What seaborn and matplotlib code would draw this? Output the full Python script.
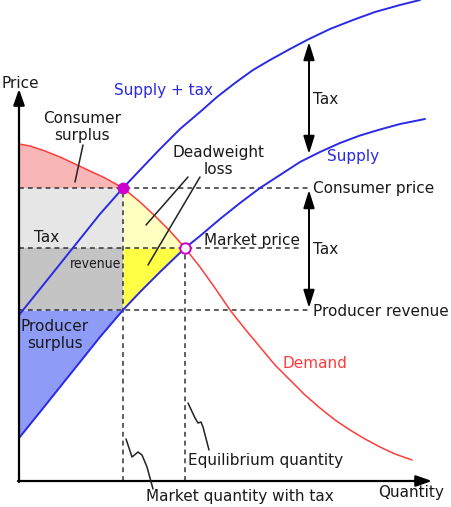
import matplotlib
matplotlib.use("Agg")
import matplotlib.pyplot as plt
import seaborn as sns
import numpy as np
import pandas as pd

sns.set_theme(style="white")
plt.rcParams['font.family'] = ['DejaVu Sans']

# ---- data (quantity, price) ----
demand_q = [0, 11, 26, 41, 56, 71, 86, 104, 121, 136, 151, 166, 181, 196, 211, 226,
            241, 256, 271, 286, 301, 316, 331, 346, 361, 376, 393]
demand_p = [337, 335, 330, 324, 317, 310, 303, 293, 279, 265, 250, 233, 214, 193, 171, 152,
            134, 116, 101, 86, 73, 61, 51, 42, 34, 27, 21]

supply_q = [0, 21, 41, 61, 81, 104, 121, 141, 166, 181, 201, 221, 241, 261, 281, 301,
            321, 341, 361, 381, 406]
supply_p = [43, 69, 94, 119, 144, 171, 189, 209, 233, 245, 262, 278, 293, 306, 319, 329,
            338, 345.5, 351.5, 357, 362]

supply_tax_q = [0, 21, 41, 61, 81, 104, 121, 141, 161, 181, 198, 216, 234, 251, 271, 288,
                311, 334, 356, 381, 401]
supply_tax_p = [166, 192, 217, 242, 267, 293, 311, 332, 352, 369, 384, 398, 411, 421, 432, 441,
                452, 461, 469, 476, 481]

consumer_price = 293
market_price = 233
producer_revenue = 171
q_tax = 104
q_eq = 166

squiggle1_q = [107, 113, 119, 123, 128, 134]
squiggle1_p = [42, 24, 29, 26, 14, -8]
squiggle2_q = [169, 176, 179, 182, 184, 190]
squiggle2_p = [78, 63, 58, 59, 54, 31]

BLUE = "#2a2ae6"
RED = "#ff3b3b"
MAG = "#cc00cc"
DASH = "#333333"
FS = 11

fig = plt.figure(figsize=(4.51, 5.07), dpi=100)
ax = fig.add_axes([0, 0, 1, 1])
ax.set_xlim(-19, 432)
ax.set_ylim(-26, 481)
ax.axis("off")

dq = np.array(demand_q); dp = np.array(demand_p)
sq = np.array(supply_q); sp = np.array(supply_p)

# ---- filled regions ----
m = dq <= q_tax
ax.fill_between(dq[m], consumer_price, dp[m], color="#f9b6b6", lw=0, zorder=1)
ax.fill_between([0, q_tax], market_price, consumer_price, color="#e6e6e6", lw=0, zorder=1)
ax.fill_between([0, q_tax], producer_revenue, market_price, color="#c4c4c4", lw=0, zorder=1)
m2 = (dq >= q_tax) & (dq <= q_eq)
ax.fill_between(dq[m2], market_price, dp[m2], color="#ffffc0", lw=0, zorder=1)
m3 = (sq >= q_tax) & (sq <= q_eq)
ax.fill_between(sq[m3], sp[m3], market_price, color="#ffff45", lw=0, zorder=1)
m4 = sq <= q_tax
ax.fill_between(sq[m4], sp[m4], producer_revenue, color="#8e9cf8", lw=0, zorder=1)

# ---- dashed guide lines ----
dkw = dict(color=DASH, lw=1.1, dashes=(3.2, 2.6), zorder=2)
ax.plot([0, 291], [consumer_price] * 2, **dkw)
ax.plot([0, 282], [market_price] * 2, **dkw)
ax.plot([0, 291], [producer_revenue] * 2, **dkw)
ax.plot([q_tax] * 2, [0, consumer_price], **dkw)
ax.plot([q_eq] * 2, [0, market_price], **dkw)

# ---- curves ----
sns.lineplot(x=demand_q, y=demand_p, sort=False, estimator=None, color=RED, lw=1.1, ax=ax, zorder=3)
sns.lineplot(x=supply_q, y=supply_p, sort=False, estimator=None, color=BLUE, lw=1.4, ax=ax, zorder=3)
sns.lineplot(x=supply_tax_q, y=supply_tax_p, sort=False, estimator=None, color=BLUE, lw=1.4, ax=ax, zorder=3)

# ---- points ----
ax.plot([q_tax], [consumer_price], "o", ms=7.5, color=MAG, zorder=5)
ax.plot([q_eq], [market_price], "o", ms=7.5, mfc="white", mec=MAG, mew=1.4, zorder=5)

# ---- axes with arrows ----
axkw = dict(arrowstyle="-|>,head_length=0.8,head_width=0.28", color="black", lw=1.6,
            mutation_scale=12, shrinkA=0, shrinkB=0)
ax.annotate("", xy=(0, 392), xytext=(0, -1), arrowprops=axkw, zorder=4)
ax.annotate("", xy=(413, 0), xytext=(-1, 0), arrowprops=axkw, zorder=4)

# ---- tax arrows ----
akw = dict(arrowstyle="<|-|>,head_length=0.9,head_width=0.28", color="black", lw=1.4,
           mutation_scale=12, shrinkA=0, shrinkB=0)
ax.annotate("", xy=(290, 439), xytext=(290, 327), arrowprops=akw)
ax.annotate("", xy=(290, 291), xytext=(290, 173), arrowprops=akw)

# ---- pointer lines ----
lkw = dict(color="#222222", lw=1.1, zorder=4)
ax.plot([56, 64], [299, 336], **lkw)
ax.plot([127, 169], [256, 304], **lkw)
ax.plot([129, 181], [216, 304], **lkw)
ax.plot(squiggle1_q, squiggle1_p, **lkw)
ax.plot(squiggle2_q, squiggle2_p, **lkw)

# ---- texts ----
tc = "#1a1a1a"
ax.text(1, 398, "Price", fontsize=FS, ha="center", va="center", color=tc)
ax.text(145, 390, "Supply + tax", fontsize=FS, ha="center", va="center", color=BLUE)
ax.text(63, 354, "Consumer\nsurplus", fontsize=FS, ha="center", va="center", color=tc, linespacing=1.15)
ax.text(199, 320, "Deadweight\nloss", fontsize=FS, ha="center", va="center", color=tc, linespacing=1.15)
ax.text(28, 243, "Tax", fontsize=FS, ha="center", va="center", color=tc)
ax.text(102, 217, "revenue", fontsize=10, ha="right", va="center", color=tc, fontstretch="condensed")
ax.text(36, 146, "Producer\nsurplus", fontsize=FS, ha="center", va="center", color=tc, linespacing=1.15)
ax.text(185, 240, "Market price", fontsize=FS, ha="left", va="center", color=tc)
ax.text(308, 324, "Supply", fontsize=FS, ha="left", va="center", color=BLUE)
ax.text(294, 293, "Consumer price", fontsize=FS, ha="left", va="center", color=tc)
ax.text(294, 381, "Tax", fontsize=FS, ha="left", va="center", color=tc)
ax.text(294, 232, "Tax", fontsize=FS, ha="left", va="center", color=tc)
ax.text(294, 170, "Producer revenue", fontsize=FS, ha="left", va="center", color=tc)
ax.text(264, 117, "Demand", fontsize=FS, ha="left", va="center", color=RED)
ax.text(169, 20, "Equilibrium quantity", fontsize=FS, ha="left", va="center", color=tc)
ax.text(127, -16, "Market quantity with tax", fontsize=FS, ha="left", va="center", color=tc)
ax.text(359, -12, "Quantity", fontsize=FS, ha="left", va="center", color=tc)

fig.savefig("out.png", dpi=100)
